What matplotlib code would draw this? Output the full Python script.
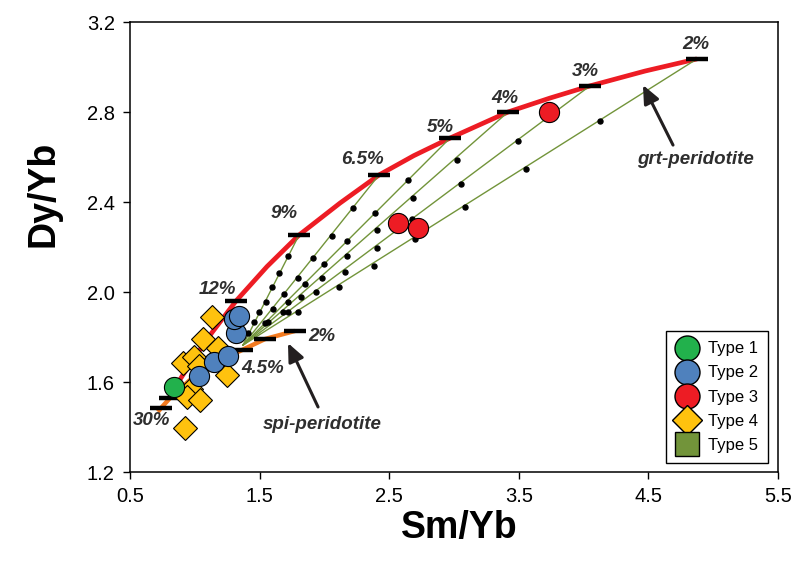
import matplotlib
matplotlib.use('Agg')
import matplotlib.pyplot as plt
from matplotlib.lines import Line2D

plt.rcParams['font.family'] = ['Liberation Sans', 'DejaVu Sans']

# --- melting curves (Sm/Yb, Dy/Yb) ---
grt_x = [0.824, 0.909, 1.017, 1.133, 1.318, 1.557, 1.804, 2.120, 2.421, 2.690, 2.969, 3.417, 3.741, 4.049, 4.474, 4.875]
grt_y = [1.555, 1.632, 1.725, 1.820, 1.960, 2.113, 2.253, 2.395, 2.520, 2.606, 2.684, 2.800, 2.862, 2.916, 2.982, 3.036]

spi_x = [0.716, 0.739, 0.809, 0.963, 1.156, 1.364, 1.542, 1.773]
spi_y = [1.467, 1.484, 1.529, 1.609, 1.684, 1.742, 1.791, 1.827]

# degree-of-melting marks
grt_pct = ['2%', '3%', '4%', '5%', '6.5%', '9%', '12%']
grt_mark_x = [4.875, 4.049, 3.417, 2.969, 2.421, 1.804, 1.318]
grt_mark_y = [3.036, 2.916, 2.800, 2.684, 2.520, 2.253, 1.960]
spi_mark_x = [0.739, 0.809, 1.364, 1.542, 1.773]
spi_mark_y = [1.484, 1.529, 1.742, 1.791, 1.827]

# mixing lines: spi-peridotite melt -> grt-peridotite melts
mix_start = (1.372, 1.764)
mix_dots_x = {
    '2%': [4.127, 3.556, 3.085, 2.699, 2.383, 2.113, 1.796],
    '3%': [3.494, 3.054, 2.676, 2.406, 2.159, 1.935, 1.719],
    '4%': [3.023, 2.684, 2.406, 2.174, 1.981, 1.819, 1.681],
    '5%': [2.645, 2.390, 2.174, 1.997, 1.850, 1.719, 1.565],
    '6.5%': [2.221, 2.059, 1.912, 1.796, 1.688, 1.603, 1.542],
    '9%': [1.719, 1.650, 1.596, 1.549, 1.495, 1.457, 1.410],
}
mix_dots_y = {
    '2%': [2.760, 2.547, 2.378, 2.236, 2.116, 2.022, 1.911],
    '3%': [2.671, 2.480, 2.324, 2.196, 2.089, 2.000, 1.911],
    '4%': [2.587, 2.418, 2.276, 2.160, 2.062, 1.978, 1.911],
    '5%': [2.498, 2.351, 2.227, 2.124, 2.036, 1.956, 1.867],
    '6.5%': [2.373, 2.249, 2.151, 2.062, 1.991, 1.924, 1.862],
    '9%': [2.160, 2.084, 2.022, 1.956, 1.911, 1.867, 1.818],
}

# --- samples ---
t1_x = [0.840]
t1_y = [1.578]
t2_x = [1.032, 1.148, 1.256, 1.318, 1.302, 1.341]
t2_y = [1.627, 1.689, 1.716, 1.818, 1.880, 1.893]
t3_x = [2.568, 2.720, 3.730]
t3_y = [2.307, 2.284, 2.800]
t4_x = [1.133, 1.063, 0.909, 0.994, 1.032, 1.179, 1.248, 0.971, 0.940, 1.040, 0.924]
t4_y = [1.889, 1.791, 1.684, 1.711, 1.671, 1.751, 1.631, 1.569, 1.533, 1.520, 1.396]

c_green = '#22b14c'
c_blue = '#4f81bd'
c_red = '#ed1c24'
c_yellow = '#ffc20e'
c_olive = '#72943a'
c_orange = '#f47b20'
c_text = '#2e2e2e'

fig = plt.figure(figsize=(8.01, 5.77), dpi=100)
ax = fig.add_axes([130 / 801, 105 / 577, 648 / 801, 450 / 577])

ax.plot(grt_x, grt_y, color=c_red, lw=3.4, solid_capstyle='butt',
        solid_joinstyle='round', zorder=2)
ax.plot(spi_x, spi_y, color=c_orange, lw=3.2, solid_capstyle='butt',
        solid_joinstyle='round', zorder=2)

for key in mix_dots_x:
    i = grt_pct.index(key)
    ax.plot([mix_start[0], grt_mark_x[i]], [mix_start[1], grt_mark_y[i]],
            color=c_olive, lw=1.0, zorder=3)
    ax.plot(mix_dots_x[key], mix_dots_y[key], 'o', color='black', ms=3.6, zorder=4)

ax.plot(grt_mark_x, grt_mark_y, '_', color='black', ms=16, mew=3.2, zorder=5)
ax.plot(spi_mark_x, spi_mark_y, '_', color='black', ms=16, mew=3.2, zorder=5)

ax.plot(t4_x, t4_y, 'D', ms=12.5, mfc=c_yellow, mec='black', mew=0.8, ls='none', zorder=6)
ax.plot(t1_x, t1_y, 'o', ms=14.5, mfc=c_green, mec='black', mew=0.8, ls='none', zorder=7)
ax.plot(t2_x, t2_y, 'o', ms=14.5, mfc=c_blue, mec='black', mew=0.8, ls='none', zorder=7)
ax.plot(t3_x, t3_y, 'o', ms=14.5, mfc=c_red, mec='black', mew=0.8, ls='none', zorder=7)

# labels for degree of melting
lab = dict(fontsize=13.5, fontweight='bold', style='italic', color=c_text,
           ha='center', va='center', zorder=8)
grt_lab_pos = [(4.867, 3.098), (4.011, 2.978), (3.394, 2.862), (2.892, 2.733),
               (2.29, 2.587), (1.688, 2.351), (1.171, 2.009)]
for txt, (lx, ly) in zip(grt_pct, grt_lab_pos):
    ax.text(lx, ly, txt, **lab)
ax.text(1.981, 1.804, '2%', **lab)
ax.text(1.526, 1.662, '4.5%', **lab)
ax.text(0.67, 1.431, '30%', **lab)

arr = dict(arrowstyle='-|>,head_length=0.5,head_width=0.22', color='#231f20',
           lw=2.2, mutation_scale=22, shrinkA=0, shrinkB=0)
ax.annotate('', xy=(4.458, 2.92), xytext=(4.69, 2.653), arrowprops=arr, zorder=8)
ax.text(4.86, 2.587, 'grt-peridotite', **lab)
ax.annotate('', xy=(1.719, 1.773), xytext=(1.951, 1.489), arrowprops=arr, zorder=8)
ax.text(1.981, 1.409, 'spi-peridotite', **lab)

ax.set_xlim(0.5, 5.5)
ax.set_ylim(1.2, 3.2)
ax.set_xticks([0.5, 1.5, 2.5, 3.5, 4.5, 5.5])
ax.set_yticks([1.2, 1.6, 2.0, 2.4, 2.8, 3.2])
ax.set_xticklabels(['0.5', '1.5', '2.5', '3.5', '4.5', '5.5'])
ax.set_yticklabels(['1.2', '1.6', '2.0', '2.4', '2.8', '3.2'])
ax.tick_params(direction='out', length=5, width=1, labelsize=14.5, pad=6)
for s in ax.spines.values():
    s.set_linewidth(1.1)
ax.set_xlabel('Sm/Yb', fontsize=27, fontweight='bold')
ax.set_ylabel('Dy/Yb', fontsize=27, fontweight='bold')
ax.xaxis.set_label_coords(0.508, -0.125)
ax.xaxis.label.set_va('center')
ax.yaxis.set_label_coords(-0.134, 0.618)
ax.yaxis.label.set_va('center')

handles = [
    Line2D([], [], marker='o', ls='none', ms=18, mfc=c_green, mec='black', mew=1),
    Line2D([], [], marker='o', ls='none', ms=18, mfc=c_blue, mec='black', mew=1),
    Line2D([], [], marker='o', ls='none', ms=18, mfc=c_red, mec='black', mew=1),
    Line2D([], [], marker='D', ls='none', ms=15, mfc=c_yellow, mec='black', mew=1),
    Line2D([], [], marker='s', ls='none', ms=17, mfc=c_olive, mec='black', mew=1),
]
leg = ax.legend(handles, ['Type 1', 'Type 2', 'Type 3', 'Type 4', 'Type 5'],
                loc='lower right', bbox_to_anchor=(0.9846, 0.02), borderaxespad=0,
                fontsize=12, fancybox=False, edgecolor='black', framealpha=1,
                handlelength=1.3, handletextpad=0.6, labelspacing=0.55,
                borderpad=0.6)
leg.get_frame().set_linewidth(1.0)

fig.savefig('out.png', dpi=100)
